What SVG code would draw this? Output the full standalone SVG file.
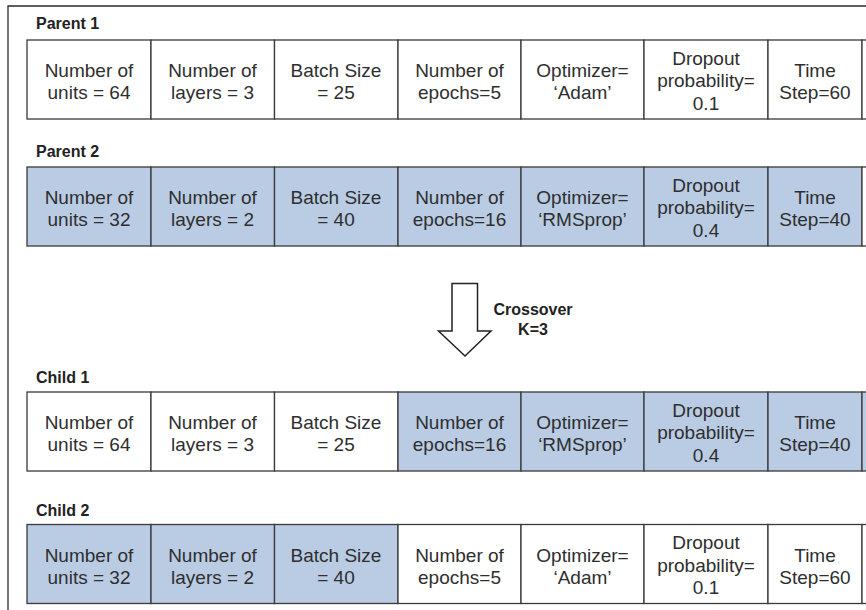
<svg xmlns="http://www.w3.org/2000/svg" width="866" height="610" viewBox="0 0 866 610">
  <style>
    .frame { fill: none; stroke: #2b2b2b; stroke-width: 1.3; }
    .cell { fill: #ffffff; stroke: #3a3a3a; stroke-width: 1.3; }
    .cell.alt { fill: #b9cce4; }
    .val { font-family: "Liberation Sans", Arial, sans-serif; font-size: 19px; fill: #2e2e2e; text-anchor: middle; }
    .lbl { font-family: "Liberation Sans", Arial, sans-serif; font-size: 16px; font-weight: bold; fill: #222; }
    .op { font-family: "Liberation Sans", Arial, sans-serif; font-size: 16px; font-weight: bold; fill: #222; text-anchor: middle; }
    .arrow { fill: #ffffff; stroke: #222; stroke-width: 1.5; stroke-linejoin: miter; }
  </style>
  <rect width="866" height="610" fill="#ffffff"/>
  <!-- outer frame, open past the right and bottom edges -->
  <path class="frame" d="M8,620 V6 H880"/>

  <!-- Parent 1 -->
  <g id="parent1">
    <text class="lbl" x="36" y="29">Parent 1</text>
    <g transform="translate(0,40)">
      <rect class="cell" x="27" y="0" width="124" height="79"/>
      <rect class="cell" x="151" y="0" width="123.5" height="79"/>
      <rect class="cell" x="274.5" y="0" width="123.5" height="79"/>
      <rect class="cell" x="398" y="0" width="123" height="79"/>
      <rect class="cell" x="521" y="0" width="123" height="79"/>
      <rect class="cell" x="644" y="0" width="124" height="79"/>
      <rect class="cell" x="768" y="0" width="94" height="79"/>
      <rect class="cell" x="862" y="0" width="30" height="79"/>
      <text class="val" x="89" y="37">Number of</text><text class="val" x="89" y="59">units = 64</text>
      <text class="val" x="212.5" y="37">Number of</text><text class="val" x="212.5" y="59">layers = 3</text>
      <text class="val" x="336" y="37">Batch Size</text><text class="val" x="336" y="59">= 25</text>
      <text class="val" x="459.5" y="37">Number of</text><text class="val" x="459.5" y="59">epochs=5</text>
      <text class="val" x="582.5" y="37">Optimizer=</text><text class="val" x="582.5" y="59">‘Adam’</text>
      <text class="val" x="706" y="24.5">Dropout</text><text class="val" x="706" y="47">probability=</text><text class="val" x="706" y="69.5">0.1</text>
      <text class="val" x="815" y="37">Time</text><text class="val" x="815" y="59">Step=60</text>
    </g>
  </g>

  <!-- Parent 2 -->
  <g id="parent2">
    <text class="lbl" x="36" y="157">Parent 2</text>
    <g transform="translate(0,167)">
      <rect class="cell alt" x="27" y="0" width="124" height="79"/>
      <rect class="cell alt" x="151" y="0" width="123.5" height="79"/>
      <rect class="cell alt" x="274.5" y="0" width="123.5" height="79"/>
      <rect class="cell alt" x="398" y="0" width="123" height="79"/>
      <rect class="cell alt" x="521" y="0" width="123" height="79"/>
      <rect class="cell alt" x="644" y="0" width="124" height="79"/>
      <rect class="cell alt" x="768" y="0" width="94" height="79"/>
      <rect class="cell" x="862" y="0" width="30" height="79"/>
      <text class="val" x="89" y="37">Number of</text><text class="val" x="89" y="59">units = 32</text>
      <text class="val" x="212.5" y="37">Number of</text><text class="val" x="212.5" y="59">layers = 2</text>
      <text class="val" x="336" y="37">Batch Size</text><text class="val" x="336" y="59">= 40</text>
      <text class="val" x="459.5" y="37">Number of</text><text class="val" x="459.5" y="59">epochs=16</text>
      <text class="val" x="582.5" y="37">Optimizer=</text><text class="val" x="582.5" y="59">‘RMSprop’</text>
      <text class="val" x="706" y="24.5">Dropout</text><text class="val" x="706" y="47">probability=</text><text class="val" x="706" y="69.5">0.4</text>
      <text class="val" x="815" y="37">Time</text><text class="val" x="815" y="59">Step=40</text>
    </g>
  </g>

  <!-- crossover step -->
  <g id="crossover">
    <path class="arrow" d="M452,283.5 H477.5 V331 H491 L465,356 L438.5,331 H452 Z"/>
    <text class="op" x="533" y="315">Crossover</text>
    <text class="op" x="533" y="335">K=3</text>
  </g>

  <!-- Child 1 -->
  <g id="child1">
    <text class="lbl" x="36" y="383">Child 1</text>
    <g transform="translate(0,392)">
      <rect class="cell" x="27" y="0" width="124" height="79"/>
      <rect class="cell" x="151" y="0" width="123.5" height="79"/>
      <rect class="cell" x="274.5" y="0" width="123.5" height="79"/>
      <rect class="cell alt" x="398" y="0" width="123" height="79"/>
      <rect class="cell alt" x="521" y="0" width="123" height="79"/>
      <rect class="cell alt" x="644" y="0" width="124" height="79"/>
      <rect class="cell alt" x="768" y="0" width="94" height="79"/>
      <rect class="cell alt" x="862" y="0" width="30" height="79"/>
      <text class="val" x="89" y="37">Number of</text><text class="val" x="89" y="59">units = 64</text>
      <text class="val" x="212.5" y="37">Number of</text><text class="val" x="212.5" y="59">layers = 3</text>
      <text class="val" x="336" y="37">Batch Size</text><text class="val" x="336" y="59">= 25</text>
      <text class="val" x="459.5" y="37">Number of</text><text class="val" x="459.5" y="59">epochs=16</text>
      <text class="val" x="582.5" y="37">Optimizer=</text><text class="val" x="582.5" y="59">‘RMSprop’</text>
      <text class="val" x="706" y="24.5">Dropout</text><text class="val" x="706" y="47">probability=</text><text class="val" x="706" y="69.5">0.4</text>
      <text class="val" x="815" y="37">Time</text><text class="val" x="815" y="59">Step=40</text>
    </g>
  </g>

  <!-- Child 2 -->
  <g id="child2">
    <text class="lbl" x="36" y="515.5">Child 2</text>
    <g transform="translate(0,524.5)">
      <rect class="cell alt" x="27" y="0" width="124" height="79"/>
      <rect class="cell alt" x="151" y="0" width="123.5" height="79"/>
      <rect class="cell alt" x="274.5" y="0" width="123.5" height="79"/>
      <rect class="cell" x="398" y="0" width="123" height="79"/>
      <rect class="cell" x="521" y="0" width="123" height="79"/>
      <rect class="cell" x="644" y="0" width="124" height="79"/>
      <rect class="cell" x="768" y="0" width="94" height="79"/>
      <rect class="cell" x="862" y="0" width="30" height="79"/>
      <text class="val" x="89" y="37">Number of</text><text class="val" x="89" y="59">units = 32</text>
      <text class="val" x="212.5" y="37">Number of</text><text class="val" x="212.5" y="59">layers = 2</text>
      <text class="val" x="336" y="37">Batch Size</text><text class="val" x="336" y="59">= 40</text>
      <text class="val" x="459.5" y="37">Number of</text><text class="val" x="459.5" y="59">epochs=5</text>
      <text class="val" x="582.5" y="37">Optimizer=</text><text class="val" x="582.5" y="59">‘Adam’</text>
      <text class="val" x="706" y="24.5">Dropout</text><text class="val" x="706" y="47">probability=</text><text class="val" x="706" y="69.5">0.1</text>
      <text class="val" x="815" y="37">Time</text><text class="val" x="815" y="59">Step=60</text>
    </g>
  </g>
</svg>
